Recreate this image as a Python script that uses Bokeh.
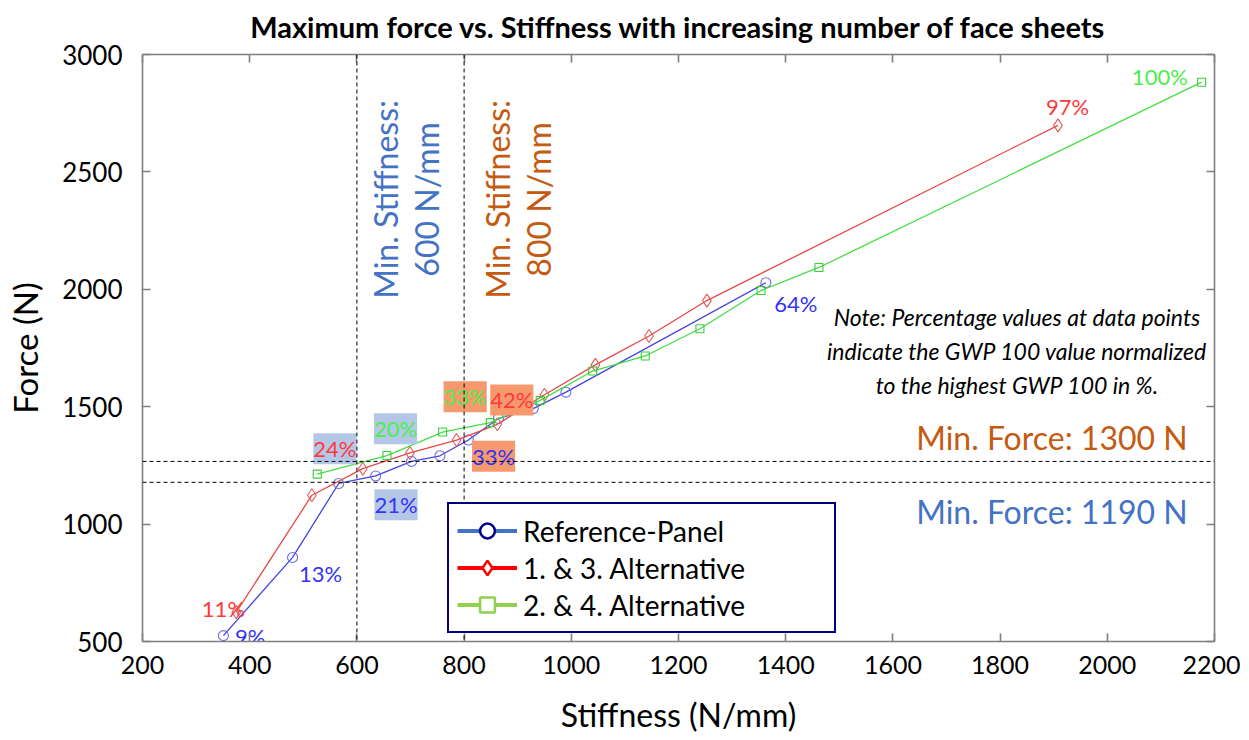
import math
from bokeh.plotting import figure
from bokeh.models import (Range1d, FixedTicker, LinearAxis, Span, Legend, LegendItem,
                          ColumnDataSource)
from bokeh.core.properties import value
from bokeh.embed import file_html
from bokeh.resources import INLINE

# ---------------- data ----------------
ref_stiff = [351, 480, 566, 635, 702, 755, 808, 864, 929, 990, 1363]
ref_force = [525, 858, 1173, 1205, 1267, 1291, 1358, 1450, 1492, 1562, 2028]

alt13_stiff = [375, 516, 611, 699, 786, 862, 950, 1045, 1145, 1253, 1908]
alt13_force = [625, 1123, 1236, 1303, 1358, 1425, 1551, 1678, 1801, 1952, 2698]

alt24_stiff = [526, 656, 760, 849, 942, 1040, 1138, 1240, 1354, 1462, 2176]
alt24_force = [1213, 1292, 1392, 1432, 1527, 1652, 1716, 1832, 1995, 2093, 2882]

series_names = ["Reference-Panel", "1. & 3. Alternative", "2. & 4. Alternative"]

x_ticks = [200, 400, 600, 800, 1000, 1200, 1400, 1600, 1800, 2000, 2200]
y_ticks = [500, 1000, 1500, 2000, 2500, 3000]

min_stiffness_lines = [600, 800]
min_force_lines = [1267, 1178]

# GWP percentage labels (text, series)
pct_plain_text = ["9%", "11%", "13%", "64%", "97%", "100%"]
pct_plain_series = [0, 1, 0, 0, 1, 2]
pct_box_text = ["24%", "20%", "21%", "33%", "42%", "33%"]
pct_box_series = [1, 2, 0, 2, 1, 0]
pct_box_kind = [0, 0, 0, 1, 1, 1]

# ---------------- label placement (annotation positions) ----------------
pct_plain_x = [401, 351, 532, 1419, 1926, 2098]
pct_plain_y = [521, 640, 789, 1941, 2779, 2906]
pct_box_x = [559, 672, 673, 802, 889, 855]
pct_box_y = [1321, 1406, 1082, 1542, 1529, 1289]

TITLE = "Maximum force vs. Stiffness with increasing number of face sheets"
FONT = "Lato"
line_cols = ["#4343e0", "#e54848", "#45dd45"]
mark_cols = ["#6e6ee0", "#e05a5a", "#38cc38"]
text_cols = ["#3434f4", "#ff3a3a", "#4cee4c"]
box_cols = ["#b4c7e7", "#f7996e"]

p = figure(width=1240, height=738,
           x_range=Range1d(200, 2200), y_range=Range1d(500, 3000),
           output_backend="svg", toolbar_location=None,
           min_border_left=142, min_border_right=26,
           min_border_top=54, min_border_bottom=97,
           title=TITLE)

p.title.text_font = FONT
p.title.text_font_size = "29px"
p.title.text_font_style = "bold"
p.title.align = "center"
p.title.vertical_align = "top"
p.title.text_color = "black"
p.title.standoff = 17

p.grid.visible = False
p.outline_line_color = None
p.background_fill_color = "white"
p.border_fill_color = "white"

AX = "#7f7f7f"
p.xaxis.ticker = FixedTicker(ticks=x_ticks)
p.yaxis.ticker = FixedTicker(ticks=y_ticks)
for ax in (p.xaxis[0], p.yaxis[0]):
    ax.axis_line_color = AX
    ax.axis_line_width = 1.6
    ax.major_tick_line_color = AX
    ax.major_tick_line_width = 1.6
    ax.major_tick_in = 8
    ax.major_tick_out = 0
    ax.minor_tick_line_color = None
    ax.major_label_text_font = FONT
    ax.major_label_text_color = "black"
    ax.axis_label_text_font = FONT
    ax.axis_label_text_font_style = "normal"
    ax.axis_label_text_color = "black"

p.xaxis.major_label_text_font_size = "25px"
p.yaxis.major_label_text_font_size = "26px"
p.xaxis.axis_label_text_font_size = "32px"
p.yaxis.axis_label_text_font_size = "33px"
p.xaxis.axis_label = "Stiffness (N/mm)"
p.yaxis.axis_label = "Force (N)"
p.xaxis.major_label_standoff = 14
p.yaxis.major_label_standoff = 20
p.xaxis.axis_label_standoff = 18
p.yaxis.axis_label_standoff = 14

# box axes on top and right with inward ticks
for side, tk in (("above", x_ticks), ("right", y_ticks)):
    a = LinearAxis(ticker=FixedTicker(ticks=tk), axis_line_color=AX, axis_line_width=1.6,
                   major_tick_line_color=AX, major_tick_line_width=1.6,
                   major_tick_in=8, major_tick_out=0, minor_tick_line_color=None,
                   major_label_text_font_size="0px", major_label_standoff=0)
    p.add_layout(a, side)

# reference lines
for xv in min_stiffness_lines:
    p.add_layout(Span(location=xv, dimension="height", line_color="black",
                      line_width=1, line_dash="4 3"))
for yv in min_force_lines:
    p.add_layout(Span(location=yv, dimension="width", line_color="black",
                      line_width=1, line_dash="4 3"))

# series
series = [(ref_stiff, ref_force, "circle", 10),
          (alt13_stiff, alt13_force, "diamond", 13),
          (alt24_stiff, alt24_force, "square", 8)]
for i, (xs, ys, mk, sz) in enumerate(series):
    p.line(xs, ys, line_color=line_cols[i], line_width=1.3)
    p.scatter(xs, ys, marker=mk, size=sz, fill_color=None,
              line_color=mark_cols[i], line_width=1.1)

# percentage labels
src_plain = ColumnDataSource(dict(
    x=pct_plain_x, y=pct_plain_y, text=pct_plain_text,
    color=[text_cols[s] for s in pct_plain_series]))
p.text(x="x", y="y", text="text", source=src_plain, text_color="color",
       text_font=value(FONT), text_font_size="22px",
       text_align="center", text_baseline="middle")

src_box = ColumnDataSource(dict(
    x=pct_box_x, y=pct_box_y, text=pct_box_text,
    color=[text_cols[s] for s in pct_box_series],
    bg=[box_cols[k] for k in pct_box_kind]))
p.text(x="x", y="y", text="text", source=src_box, text_color="color",
       text_font=value(FONT), text_font_size="22px",
       text_align="center", text_baseline="middle",
       background_fill_color="bg", padding=[0, 2])

# vertical minimum-stiffness labels
p.text(x=[691], y=[2383], text=["Min. Stiffness:\n600 N/mm"], angle=math.pi / 2,
       text_color="#4472c4", text_font=value(FONT), text_font_size="32px",
       text_align="center", text_baseline="middle", text_line_height=1.05)
p.text(x=[901], y=[2383], text=["Min. Stiffness:\n800 N/mm"], angle=math.pi / 2,
       text_color="#c55a11", text_font=value(FONT), text_font_size="32px",
       text_align="center", text_baseline="middle", text_line_height=1.05)

# minimum-force labels
p.text(x=[2150], y=[1367], text=["Min. Force: 1300 N"], text_color="#c55a11",
       text_font=value(FONT), text_font_size="32px",
       text_align="right", text_baseline="middle")
p.text(x=[2150], y=[1053], text=["Min. Force: 1190 N"], text_color="#4472c4",
       text_font=value(FONT), text_font_size="32px",
       text_align="right", text_baseline="middle")

# note
p.text(x=[1832], y=[1737],
       text=["Note: Percentage values at data points\nindicate the GWP 100 value normalized\nto the highest GWP 100 in %."],
       text_color="black", text_font=value(FONT), text_font_size="23px",
       text_font_style="italic", text_align="center", text_baseline="middle",
       text_line_height=1.2)

# legend (hidden copies of the series, styled like the reference legend)
leg_line_cols = ["#4472c4", "#ff0000", "#92d050"]
leg_mark_cols = ["#00008b", "#ff0000", "#92d050"]
leg_marks = ["circle", "diamond", "square"]
items = []
for i, (xs, ys, mk, sz) in enumerate(series):
    lr = p.line(xs, ys, line_color=leg_line_cols[i], line_width=4, visible=False)
    mr = p.scatter(xs, ys, marker=leg_marks[i], fill_color="white",
                   line_color=leg_mark_cols[i], line_width=2.5, visible=False)
    items.append(LegendItem(label=series_names[i], renderers=[lr, mr]))

legend = Legend(items=items, location=(305, 8),
                border_line_color="#000080", border_line_width=2.5, border_line_alpha=1,
                background_fill_color="white", background_fill_alpha=1,
                label_text_font=FONT, label_text_font_size="28px", label_text_color="black",
                glyph_width=60, glyph_height=37, label_standoff=6, label_width=303,
                padding=8, spacing=0, margin=0,
                inactive_fill_alpha=0, click_policy="none")
p.add_layout(legend)

open("out.html", "w").write(file_html(p, INLINE))
